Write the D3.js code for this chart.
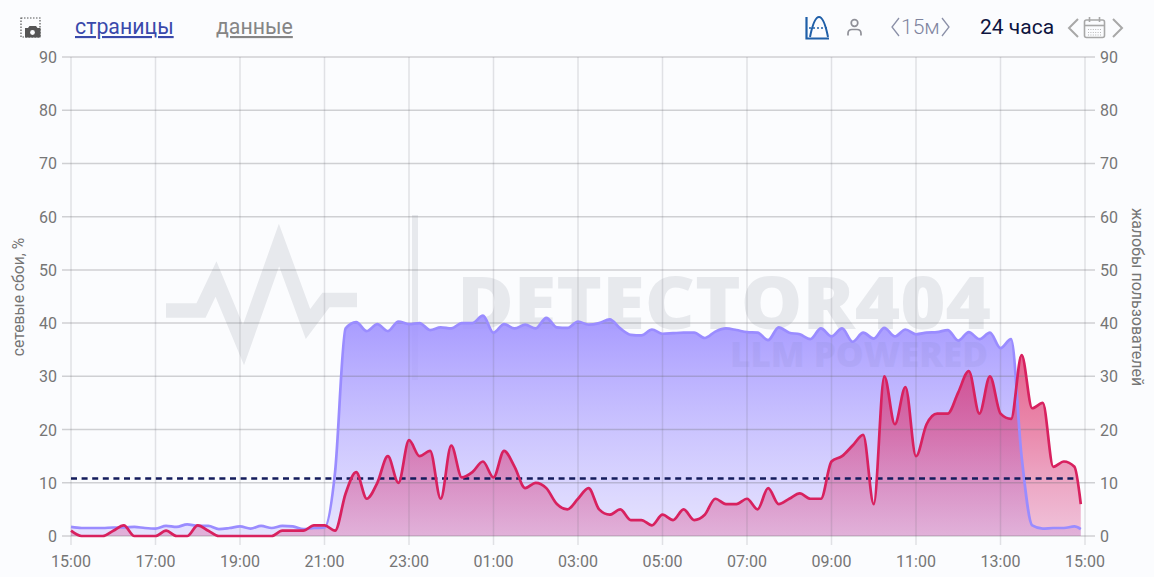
<!DOCTYPE html>
<html><head><meta charset="utf-8">
<style>
html,body{margin:0;padding:0;background:#fbfcfe;overflow:hidden}
svg{display:block}
text{font-family:Roboto,sans-serif}
</style>
<script src="https://cdn.jsdelivr.net/npm/d3@7/dist/d3.min.js"></script>
</head><body><svg id="c" width="1154" height="577"></svg>
<script>
const failures=[1.7,1.5,1.5,1.5,1.6,1.6,1.7,1.5,1.4,1.9,1.7,2.2,1.9,1.9,1.3,1.5,1.8,1.4,1.9,1.5,1.9,1.8,1.3,1.5,1.6,12,39,40.2,38.5,39.8,38.5,40.3,39.8,40,38.7,39.2,39,40,40,41.4,38.2,39.8,39,39.7,39,41,39.2,39.1,40.3,39.7,40,40.7,39,37.8,37.7,38.8,38,38.1,38.2,38.2,37.2,38.4,39,38.7,38.3,38.2,36.8,39.2,38.2,37.9,37,39,37.5,39,36.5,38.2,37.1,39.1,37.5,38.8,37.9,38.2,38.3,38.7,36.7,38.3,37,38.2,35.3,37,14.9,2,1.4,1.5,1.5,1.8,1.3];
const complaints=[1,0,0,0,1,2,0,0,0,1,0,0,2,1,0,0,0,0,0,0,1,1,1,2,2,1,8,12,7,10,15,10,18,15,16,7,17,11,12,14,11,16,13,9,10,9,6,5,7,9,5,4,5,3,3,2,4,3,5,3,4,7,6,6,7,5,9,6,7,8,7,7,14,15,17,19,6,30,21,28,15,21,23,23,27,31,23,30,23,22,34,24,25,13,14,13,6];
const minutes=[...d3.range(96).map(i=>i*15),1434];
const threshold=10.8;
const xTickLabels=["15:00","17:00","19:00","21:00","23:00","01:00","03:00","05:00","07:00","09:00","11:00","13:00","15:00"];
const xTickMinutes=xTickLabels.map((_,i)=>i*120);
const yTicks=[0,10,20,30,40,50,60,70,80,90];

const svg=d3.select("#c");
const x=d3.scaleLinear().domain([0,1440]).range([71,1085]);
const y=d3.scaleLinear().domain([0,90]).range([536,57]);
const defs=svg.append("defs");
function grad(id,stops){
  const g=defs.append("linearGradient").attr("id",id).attr("gradientUnits","userSpaceOnUse")
    .attr("x1",0).attr("x2",0).attr("y1",y(40)).attr("y2",y(0));
  stops.forEach(s=>g.append("stop").attr("offset",s[0]).attr("stop-color",s[1]).attr("stop-opacity",s[2]));
}
grad("gp",[[0,"#a294ff",0.92],[0.7,"#b8aeff",0.55],[1,"#c8c0ff",0.42]]);
grad("gr",[[0,"#dc2460",0.78],[0.5,"#dc2a68",0.55],[1,"#d8488c",0.32]]);

const curve=d3.curveMonotoneX;
const line=d3.line().x((d,i)=>x(minutes[i])).y(d=>y(d)).curve(curve);
const area=d3.area().x((d,i)=>x(minutes[i])).y0(y(0)).y1(d=>y(d)).curve(curve);

// watermark (behind)
const wm=svg.append("g");
wm.append("polyline").attr("points","166,310.5 201,310.5 216,279 243.5,345 279,245 308,324 326,300 357,300")
  .attr("fill","none").attr("stroke","#e7e9ed").attr("stroke-width",14.5).attr("stroke-miterlimit",10);
wm.append("rect").attr("x",412).attr("y",215).attr("width",6).attr("height",165).attr("fill","#e7e9ed");
wm.append("text").attr("x",457).attr("y",329).attr("textLength",534).attr("lengthAdjust","spacingAndGlyphs")
  .style("font-family","'Open Sans'").style("font-weight",800).style("font-size","72px").attr("fill","#e7e9ed").text("DETECTOR404");

// areas
svg.append("path").datum(failures).attr("d",area).attr("fill","url(#gp)");
svg.append("path").datum(complaints).attr("d",area).attr("fill","url(#gr)");
svg.append("text").attr("x",730).attr("y",367).attr("textLength",258).attr("lengthAdjust","spacingAndGlyphs")
  .style("font-family","'Open Sans'").style("font-weight",800).style("font-size","36px").attr("fill","#7a7ac0").attr("opacity",0.11).text("LLM POWERED");

// grid and axes
const gridH=svg.append("g");
gridH.selectAll("line").data(yTicks).join("line")
  .attr("x1",62).attr("x2",1095).attr("y1",d=>y(d)).attr("y2",d=>y(d))
  .attr("stroke","#6a6a72").attr("stroke-opacity",0.3).attr("stroke-width",1.5);
const gridV=svg.append("g");
gridV.selectAll("line").data(xTickMinutes).join("line")
  .attr("x1",d=>x(d)).attr("x2",d=>x(d)).attr("y1",57).attr("y2",545)
  .attr("stroke","#6a6a72").attr("stroke-opacity",0.18).attr("stroke-width",1.5);

const lab="#757575";
svg.append("g").selectAll("text").data(yTicks).join("text")
  .attr("x",57).attr("y",d=>y(d)+6).attr("text-anchor","end").attr("fill",lab).style("font-size","16px").text(d=>d);
svg.append("g").selectAll("text").data(yTicks).join("text")
  .attr("x",1100).attr("y",d=>y(d)+6).attr("fill",lab).style("font-size","16px").text(d=>d);
svg.append("g").selectAll("text").data(xTickLabels).join("text")
  .attr("x",(d,i)=>x(xTickMinutes[i])).attr("y",567).attr("text-anchor","middle").attr("fill",lab).style("font-size","16px").text(d=>d);
svg.append("text").attr("transform","translate(24,297) rotate(-90)").attr("text-anchor","middle").attr("fill",lab).style("font-size","15.7px").text("сетевые сбои, %");
svg.append("text").attr("transform","translate(1132,297) rotate(90)").attr("text-anchor","middle").attr("fill",lab).style("font-size","16px").text("жалобы пользователей");

// series lines
svg.append("path").datum(failures).attr("d",line).attr("fill","none").attr("stroke","#9a8cff").attr("stroke-width",2.7);
svg.append("line").attr("x1",x(0)).attr("x2",x(1425)).attr("y1",y(threshold)).attr("y2",y(threshold))
  .attr("stroke","#141c5c").attr("stroke-width",2.6).attr("stroke-dasharray","6 4.6");
svg.append("path").datum(complaints).attr("d",line).attr("fill","none").attr("stroke","#d8215f").attr("stroke-width",2.7);

// header
const t=svg.append("g");
t.append("text").attr("x",75).attr("y",34).attr("fill","#3949ab").style("font-size","21.3px").style("text-decoration","underline").text("страницы");
t.append("text").attr("x",216).attr("y",34).attr("fill","#858585").style("font-size","21.3px").style("text-decoration","underline").text("данные");
t.append("text").attr("x",980).attr("y",34).attr("fill","#0e1440").style("font-size","21px").text("24 часа");
t.append("text").attr("x",901).attr("y",34).attr("fill","#7f849e").style("font-size","21px").style("font-weight",300).text("15м");
function p(d,c,w,extra){const e=t.append("path").attr("d",d).attr("fill","none").attr("stroke",c).attr("stroke-width",w);if(extra)e.attr("stroke-dasharray",extra);return e;}
p("M899 18L892 27L899 36","#8b90a8",1.3);
p("M942 18L949 27L942 36","#8b90a8",1.3);
p("M1078 19L1069 28L1078 37","#a8a8a8",2);
p("M1113 19L1122 28L1113 37","#a8a8a8",2);
// calendar
t.append("rect").attr("x",1084.5).attr("y",20).attr("width",20).attr("height",17.5).attr("rx",2).attr("fill","none").attr("stroke","#a8a8a8").attr("stroke-width",1.6);
p("M1084.5 25.5H1104.5","#a8a8a8",1.6);
p("M1089.5 17V22M1099.5 17V22","#a8a8a8",1.6);
p("M1088 29.5H1101M1088 32.5H1101M1088 35H1101","#b8b8b8",1.2,"1 1.4");
// person
t.append("circle").attr("cx",854.5).attr("cy",23).attr("r",3.3).attr("fill","none").attr("stroke","#8f9098").attr("stroke-width",1.7);
p("M848 35.5V33.5Q848 29.5 852 29.5H857Q861 29.5 861 33.5V35.5","#8f9098",1.7);
// chart toggle
p("M806.5 17V38.5H829","#1f5fa8",2.2);
p("M810 37Q814 17 819 17Q824 17 828 37","#1f5fa8",2);
p("M809 28H827","#1f5fa8",1.5,"2 2");
// screenshot
t.append("rect").attr("x",21).attr("y",18).attr("width",19).attr("height",19).attr("fill","none").attr("stroke","#555").attr("stroke-width",1.2).attr("stroke-dasharray","1.5 1.5");
t.append("path").attr("d","M25 28H28L29.5 26H36L37.5 28H40.5V37.5H25Z").attr("fill","#555");
t.append("circle").attr("cx",32.5).attr("cy",32.5).attr("r",2.4).attr("fill","#fbfcfe");
</script></body></html>
